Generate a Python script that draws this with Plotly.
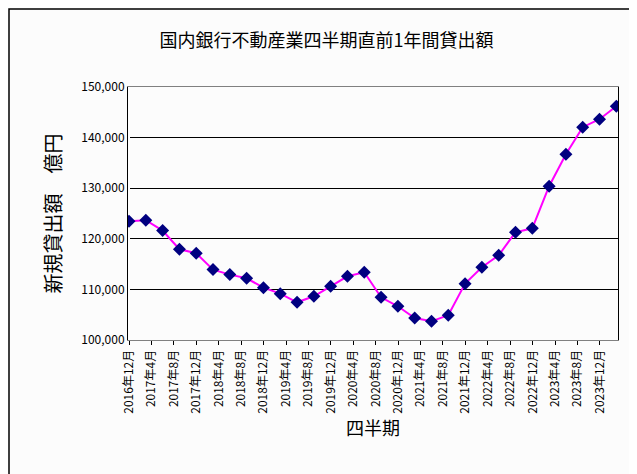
import plotly.graph_objects as go

values = [123470,123670,121620,117930,117140,113910,112920,112200,110350,109160,
          107450,108640,110610,112590,113380,108440,106660,104350,103690,104880,
          111140,114370,116740,121290,122080,130390,136720,142060,143640,146210]
tick_labels = ["2016年12月","2017年4月","2017年8月","2017年12月","2018年4月","2018年8月",
               "2018年12月","2019年4月","2019年8月","2019年12月","2020年4月","2020年8月",
               "2020年12月","2021年4月","2021年8月","2021年12月","2022年4月","2022年8月",
               "2022年12月","2023年4月","2023年8月","2023年12月"]
y_ticks = [100000,110000,120000,130000,140000,150000]

x = list(range(len(values)))
step = 67/50.2
tickvals = [k*step for k in range(len(tick_labels))]
font = "Noto Sans CJK JP"

fig = go.Figure(go.Scatter(
    x=x, y=values, mode="lines+markers",
    line=dict(color="#ff00ff", width=2),
    marker=dict(symbol="diamond", size=10, color="#000080"),
))
fig.update_layout(
    width=637, height=474,
    margin=dict(l=120, r=27, t=79, b=142, autoexpand=False),
    paper_bgcolor="#fcfcfc", plot_bgcolor="#fcfcfc",
    showlegend=False,
    font=dict(family=font, color="black"),
    title=dict(text="国内銀行不動産業四半期直前1年間貸出額", x=0.5, xanchor="center",
               y=1-33/474, yanchor="middle", font=dict(size=18)),
    shapes=[dict(type="rect", xref="paper", yref="paper", x0=-119/490, x1=1+26/490,
                 y0=-141/253, y1=1+78/253, line=dict(color="black", width=1.5))],
)
fig.update_xaxes(range=[-0.06, 29.1], tickvals=tickvals, ticktext=tick_labels,
                 tickangle=-90, tickfont=dict(size=12), showgrid=False, automargin=False,
                 showline=True, linecolor="gray", mirror=True, ticks="outside", ticklen=4,
                 tickcolor="black",
                 title=dict(text="四半期", font=dict(size=18), standoff=8))
fig.update_yaxes(range=[100000, 150000], tickvals=y_ticks, tickformat=",", automargin=False,
                 tickfont=dict(size=12), showgrid=True, gridcolor="black", gridwidth=1,
                 showline=True, linecolor="black", ticks="", mirror=True,
                 title=dict(text="新規貸出額　億円", font=dict(size=20), standoff=14))
fig.write_html("out.html")
